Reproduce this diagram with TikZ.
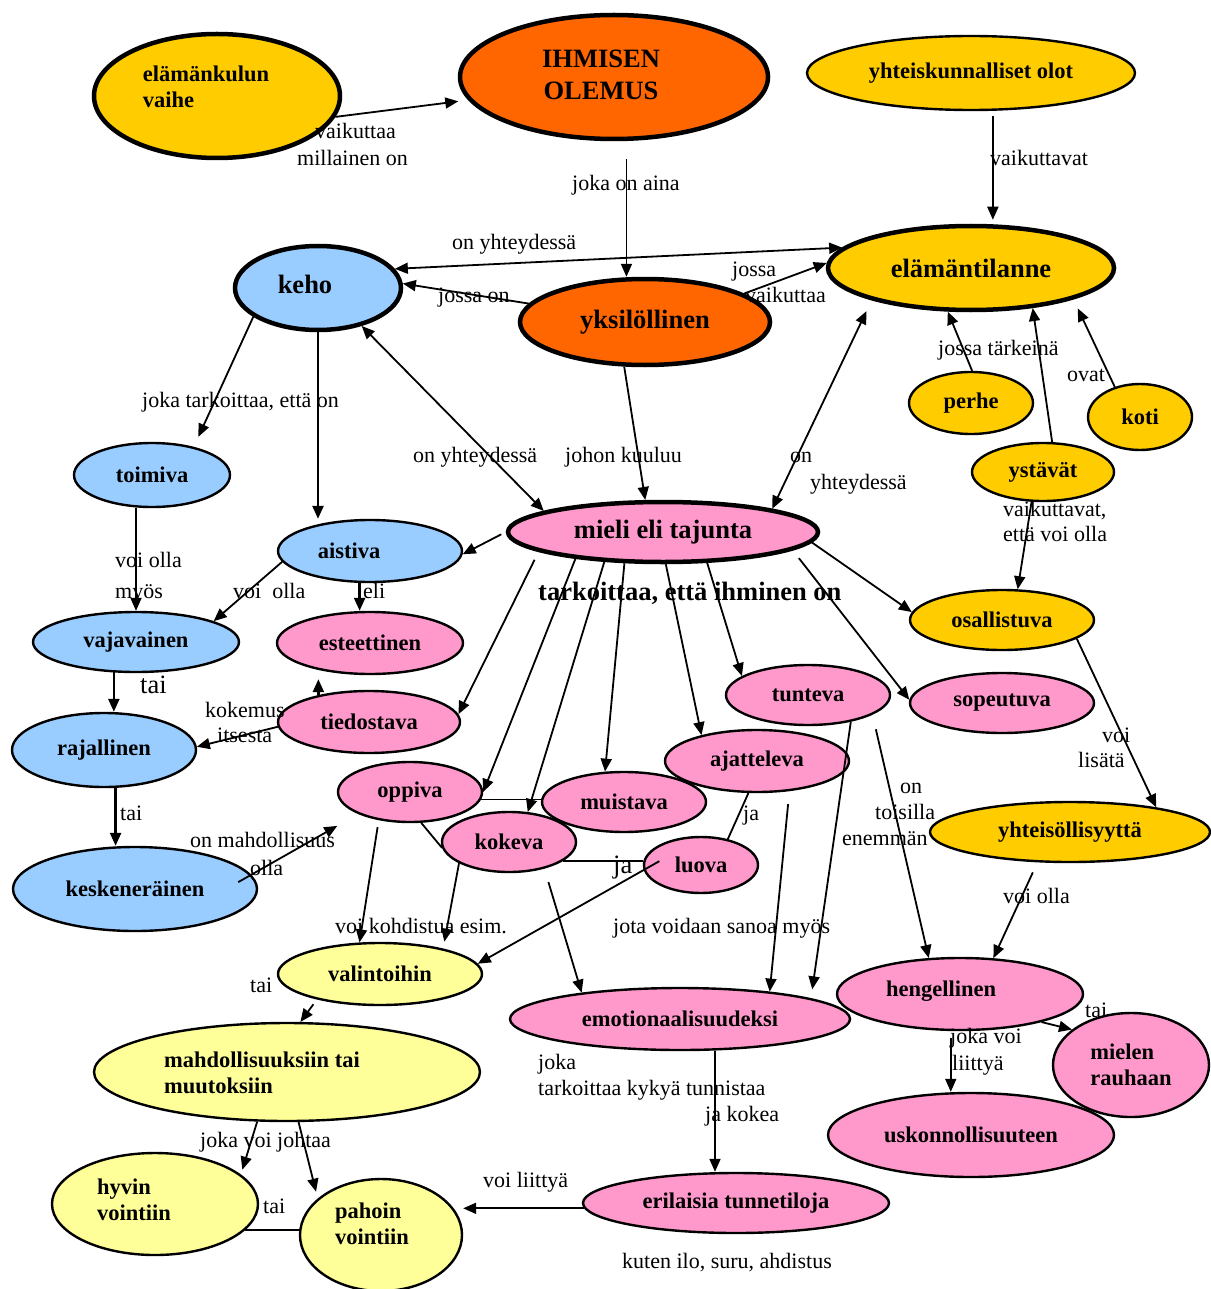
\documentclass[tikz,border=0pt]{standalone}
\usepackage{fontspec}
\setmainfont{Liberation Serif}
\usetikzlibrary{shapes.geometric,arrows.meta}

\definecolor{cGold}{HTML}{FFCC00}
\definecolor{cOrange}{HTML}{FF6600}
\definecolor{cBlue}{HTML}{99CCFF}
\definecolor{cPink}{HTML}{FF99CC}
\definecolor{cLemon}{HTML}{FFFF99}

\newcommand{\txtNode}{\bfseries\fontsize{22.5}{26}\selectfont}
\newcommand{\txtBig}{\bfseries\fontsize{26.5}{32}\selectfont}
\newcommand{\txtLab}{\fontsize{22}{26}\selectfont}

\tikzset{
  ov/.style={ellipse, draw=black, line width=2.4pt, inner sep=0pt, font=\txtNode, align=center},
  ovthick/.style={ov, line width=4.5pt},
  sz/.style 2 args={minimum width=#1, minimum height=#2},
  bigtext/.style={font=\txtBig},
  txt/.style={inner sep=0pt, font=\txtNode, align=center},
  lab/.style={inner sep=0pt, font=\txtLab, anchor=west, text height=15pt, text depth=5pt},
  labbig/.style={inner sep=0pt, font=\txtBig, anchor=west, text height=18pt, text depth=6pt},
  arr/.style={line width=1.8pt, -{Triangle[length=13pt,width=11pt]}},
  arrboth/.style={line width=1.8pt, {Triangle[length=13pt,width=11pt]}-{Triangle[length=13pt,width=11pt]}},
  link/.style={line width=1.8pt},
  heavy/.style={line width=2.4pt}
}

\begin{document}
\begin{tikzpicture}[x=1pt,y=-1pt]
\useasboundingbox (0,0) rectangle (1210,1289);
\fill[white] (0,0) rectangle (1210,1289);

% ---- concepts ----
\node[ovthick, fill=cGold, sz={246pt}{124pt}] (elv) at (217,96) {};
\node[txt, align=left] (elv-t) at (206,87) {elämänkulun\\vaihe};
\node[ovthick, fill=cOrange, sz={308pt}{124pt}] (io) at (614,77) {};
\node[txt, font=\txtBig] (io-t) at (601,75) {IHMISEN\\OLEMUS};
\node[ov, fill=cGold, sz={328pt}{74pt}] (yo) at (971,73) {yhteiskunnalliset olot};
\node[ovthick, fill=cGold, sz={286pt}{84pt}, bigtext] (et) at (971,268) {elämäntilanne};
\node[ovthick, fill=cBlue, sz={166pt}{84pt}] (keho) at (318,288) {};
\node[txt, font=\txtBig] (keho-t) at (305,284) {keho};
\node[ovthick, fill=cOrange, sz={250pt}{86pt}, bigtext] (yk) at (645,322) {yksilöllinen};
\node[ov, fill=cGold, sz={124pt}{62pt}] (perhe) at (971,403) {perhe};
\node[ov, fill=cGold, sz={104pt}{66pt}] (koti) at (1140,417) {koti};
\node[ov, fill=cGold, sz={142pt}{58pt}] (ystavat) at (1043,472) {ystävät};
\node[ov, fill=cBlue, sz={156pt}{64pt}] (toimiva) at (152,475) {toimiva};
\node[ov, fill=cBlue, sz={184pt}{62pt}] (aistiva) at (370,551) {};
\node[txt] (aistiva-t) at (349,551) {aistiva};
\node[ovthick, fill=cPink, sz={310pt}{60pt}, bigtext] (mieli) at (663,532) {mieli eli tajunta};
\node[ov, fill=cBlue, sz={206pt}{60pt}] (vaja) at (136,642) {vajavainen};
\node[ov, fill=cPink, sz={186pt}{62pt}] (este) at (370,643) {esteettinen};
\node[ov, fill=cGold, sz={184pt}{60pt}] (osal) at (1002,620) {osallistuva};
\node[ov, fill=cPink, sz={164pt}{60pt}] (tunt) at (808,695) {tunteva};
\node[ov, fill=cPink, sz={184pt}{60pt}] (sope) at (1002,703) {sopeutuva};
\node[ov, fill=cPink, sz={182pt}{62pt}] (tied) at (369,722) {tiedostava};
\node[ov, fill=cBlue, sz={184pt}{74pt}] (raja) at (104,750) {rajallinen};
\node[ov, fill=cPink, sz={184pt}{62pt}] (ajat) at (757,761) {ajatteleva};
\node[ov, fill=cPink, sz={144pt}{60pt}] (oppi) at (410,792) {oppiva};
\node[ov, fill=cPink, sz={164pt}{60pt}] (muis) at (624,802) {muistava};
\node[ov, fill=cPink, sz={134pt}{60pt}] (koke) at (509,842) {kokeva};
\node[ov, fill=cPink, sz={114pt}{56pt}] (luova) at (701,865) {luova};
\node[ov, fill=cGold, sz={280pt}{60pt}] (yhte) at (1070,832) {yhteisöllisyyttä};
\node[ov, fill=cBlue, sz={244pt}{84pt}] (kesk) at (135,889) {keskeneräinen};
\node[ov, fill=cLemon, sz={204pt}{62pt}] (vali) at (380,974) {valintoihin};
\node[ov, fill=cPink, sz={340pt}{62pt}] (emo) at (680,1019) {emotionaalisuudeksi};
\node[ov, fill=cPink, sz={246pt}{72pt}] (heng) at (960,994) {};
\node[txt] (heng-t) at (941,991) {hengellinen};
\node[ov, fill=cLemon, sz={386pt}{98pt}] (mahd) at (287,1072) {};
\node[txt, align=left] (mahd-t) at (262,1073) {mahdollisuuksiin tai\\muutoksiin};
\node[ov, fill=cPink, sz={156pt}{104pt}, align=left] (miel) at (1131,1065) {mielen\\rauhaan};
\node[ov, fill=cPink, sz={286pt}{84pt}] (usko) at (971,1135) {uskonnollisuuteen};
\node[ov, fill=cLemon, sz={206pt}{102pt}] (hyvi) at (155,1204) {};
\node[txt, align=left] (hyvi-t) at (134,1200) {hyvin\\vointiin};
\node[ov, fill=cLemon, sz={162pt}{112pt}] (paho) at (381,1235) {};
\node[txt, align=left] (paho-t) at (372,1224) {pahoin\\vointiin};
\node[ov, fill=cPink, sz={306pt}{60pt}] (eril) at (736,1203) {erilaisia tunnetiloja};

% ---- link phrases ----
\node[lab] (lA) at (315,134) {vaikuttaa};
\node[lab] (lB) at (297,161) {millainen on};
\node[lab] (lC) at (572,186) {joka on aina};
\node[lab] (lD) at (990,161) {vaikuttavat};
\node[lab] (lE) at (452,245) {on yhteydessä};
\node[lab] (lF) at (438,297) {jossa on};
\node[lab] (lG) at (732,271) {jossa};
\node[lab] (lH) at (745,297) {vaikuttaa};
\node[lab] (lI) at (938,350) {jossa tärkeinä};
\node[lab] (lJ) at (1067,376) {ovat};
\node[lab] (lK) at (142,402) {joka tarkoittaa, että on};
\node[lab] (lL) at (413,457) {on yhteydessä};
\node[lab] (lM) at (565,457) {johon kuuluu};
\node[lab] (lN) at (790,457) {on};
\node[lab] (lO) at (810,484) {yhteydessä};
\node[lab] (lP) at (1003,511) {vaikuttavat,};
\node[lab] (lQ) at (1003,536) {että voi olla};
\node[lab] (lR) at (115,562) {voi olla};
\node[lab] (lS) at (115,593) {myös};
\node[lab] (lT) at (233,593) {voi~~olla};
\node[lab] (lU) at (363,593) {eli};
\node[labbig] (lV) at (538,594) {tarkoittaa, että ihminen on};
\node[labbig, font=\fontsize{26.5}{32}\selectfont] (lW) at (140,687) {tai};
\node[lab] (lX) at (205,712) {kokemus};
\node[lab] (lY) at (217,737) {itsesta};
\node[lab] (lZ) at (120,815) {tai};
\node[lab] (m1) at (190,842) {on mahdollisuus};
\node[lab] (m2) at (250,870) {olla};
\node[lab] (m3) at (900,788) {on};
\node[lab] (m4) at (875,814) {toisilla};
\node[lab] (m5) at (842,840) {enemmän};
\node[lab] (m6) at (1102,737) {voi};
\node[lab] (m7) at (1078,762) {lisätä};
\node[lab] (m8) at (743,815) {ja};
\node[labbig, font=\fontsize{26.5}{32}\selectfont] (m9) at (613,867) {ja};
\node[lab] (m10) at (335,928) {voi kohdistua esim.};
\node[lab] (m11) at (613,928) {jota voidaan sanoa myös};
\node[lab] (m12) at (1003,898) {voi olla};
\node[lab] (m13) at (250,987) {tai};
\node[lab] (m14) at (1085,1012) {tai};
\node[lab] (m15) at (950,1038) {joka voi};
\node[lab] (m16) at (952,1065) {liittyä};
\node[lab] (m17) at (538,1064) {joka};
\node[lab] (m18) at (538,1090) {tarkoittaa kykyä tunnistaa};
\node[lab] (m19) at (705,1116) {ja kokea};
\node[lab] (m20) at (200,1142) {joka voi johtaa};
\node[lab] (m21) at (263,1208) {tai};
\node[lab] (m22) at (483,1182) {voi liittyä};
\node[lab] (m23) at (622,1263) {kuten ilo, suru, ahdistus};

% ---- connectors ----
\draw[arr, shorten >=10pt] (elv.-10) -- (io.189);
\draw[arr, shorten <=18pt] (io.-79) -- (io.-79 |- yk.north);
\draw[arr, shorten <=5pt, shorten >=4pt] (yo.-60) -- (yo.-60 |- et.north);
\draw[arrboth] (keho.14) -- (et.171);
\draw[arr] (yk.171) -- (keho.3);
\draw[arr] (yk.16) -- (et.178);
\draw[arr, shorten >=11pt] (keho.204) -- (toimiva.34);
\draw[arr, heavy] (keho.south) -- (keho.south |- aistiva.north);
\draw[arrboth] (keho.-41) -- (mieli.170);
\draw[arr] (yk.-115) -- (mieli.119);
\draw[arrboth, shorten >=12pt] (mieli.12) -- (et.198);
\draw[arr] (perhe.88) -- (et.242);
\draw[arr] (ystavat.73) -- (et.-33);
\draw[arr, shorten >=10pt] (koti.130) -- (et.-17);
\draw[arr] (ystavat.-111) -- (osal.63);

\draw[arr, shorten <=5pt] (mieli.180) -- (aistiva.-2);
\draw[arr] (toimiva.south -| vaja.north) -- (vaja.north);
\draw[arr] (aistiva.187) -- (vaja.15);
\draw[arr, heavy] (aistiva.-108) -- (aistiva.-108 |- este.north);
\draw[arr] (mieli.-4) -- (osal.175);
\draw[arr, shorten <=10pt] (mieli.-8) -- (sope.178);
\draw[arr] (mieli.-35) -- (tunt.164);
\draw[arr] (mieli.-85) -- (ajat.155);
\draw[arr] (mieli.219) -- (muis.122);
\draw[arr] (mieli.207) -- (koke.58);
\draw[arr] (mieli.197) -- (oppi.0);
\draw[arr, shorten <=9pt] (mieli.189) -- (tied.5);

\draw[arr, heavy, shorten >=4pt] (tied.152) -- (tied.152 |- este.south);
\draw[arr] (tied.183) -- (raja.2);
\draw[arr, heavy] (vaja.234) -- (vaja.234 |- raja.north);
\draw[arr, heavy] (raja.-73) -- (raja.-73 |- kesk.north);
\draw[arr, shorten <=-15pt, shorten >=24pt] (kesk.7) -- (oppi.203);

\draw[link] (oppi.-6) -- (oppi.-6 -| muis.west);
\draw[link] (oppi.-70) -- (koke.185);
\draw[link] (koke.-19) -- (koke.-19 -| luova.west);
\draw[link] (ajat.-105) -- (luova.44);

\draw[arr, shorten <=-18pt] (luova.185) -- (vali.6);
\draw[arr, shorten <=7pt] (oppi.222) -- (vali.123);
\draw[arr, shorten >=7pt] (koke.203) -- (vali.22);
\draw[arr, shorten <=14pt] (koke.-37) -- (emo.165);
\draw[arr, shorten <=13pt] (ajat.-43) -- (emo.17);
\draw[arr, shorten >=9pt] (tunt.-32) -- (emo.9);
\draw[arr, shorten <=15pt] (tunt.-17) -- (heng.131);

\draw[arr] (osal.-14) -- (yhte.16);
\draw[arr, shorten <=11pt] (yhte.223) -- (heng.47);
\draw[arr] (heng.-19) -- (miel.149);
\draw[arr, shorten <=7pt] (heng.-104) -- (heng.-104 |- usko.north);

\draw[arr, shorten <=6pt] (vali.202) -- (mahd.75);
\draw[arr, shorten >=5pt] (mahd.239) -- (hyvi.19);
\draw[arr, shorten >=7pt] (mahd.-77) -- (paho.150);
\draw[link] (hyvi.-16) -- (hyvi.-16 -| paho.west);
\draw[arr] (emo.-42) -- (emo.-42 |- eril.north);
\draw[arr] (eril.182) -- (eril.182 -| paho.east);
\end{tikzpicture}
\end{document}
